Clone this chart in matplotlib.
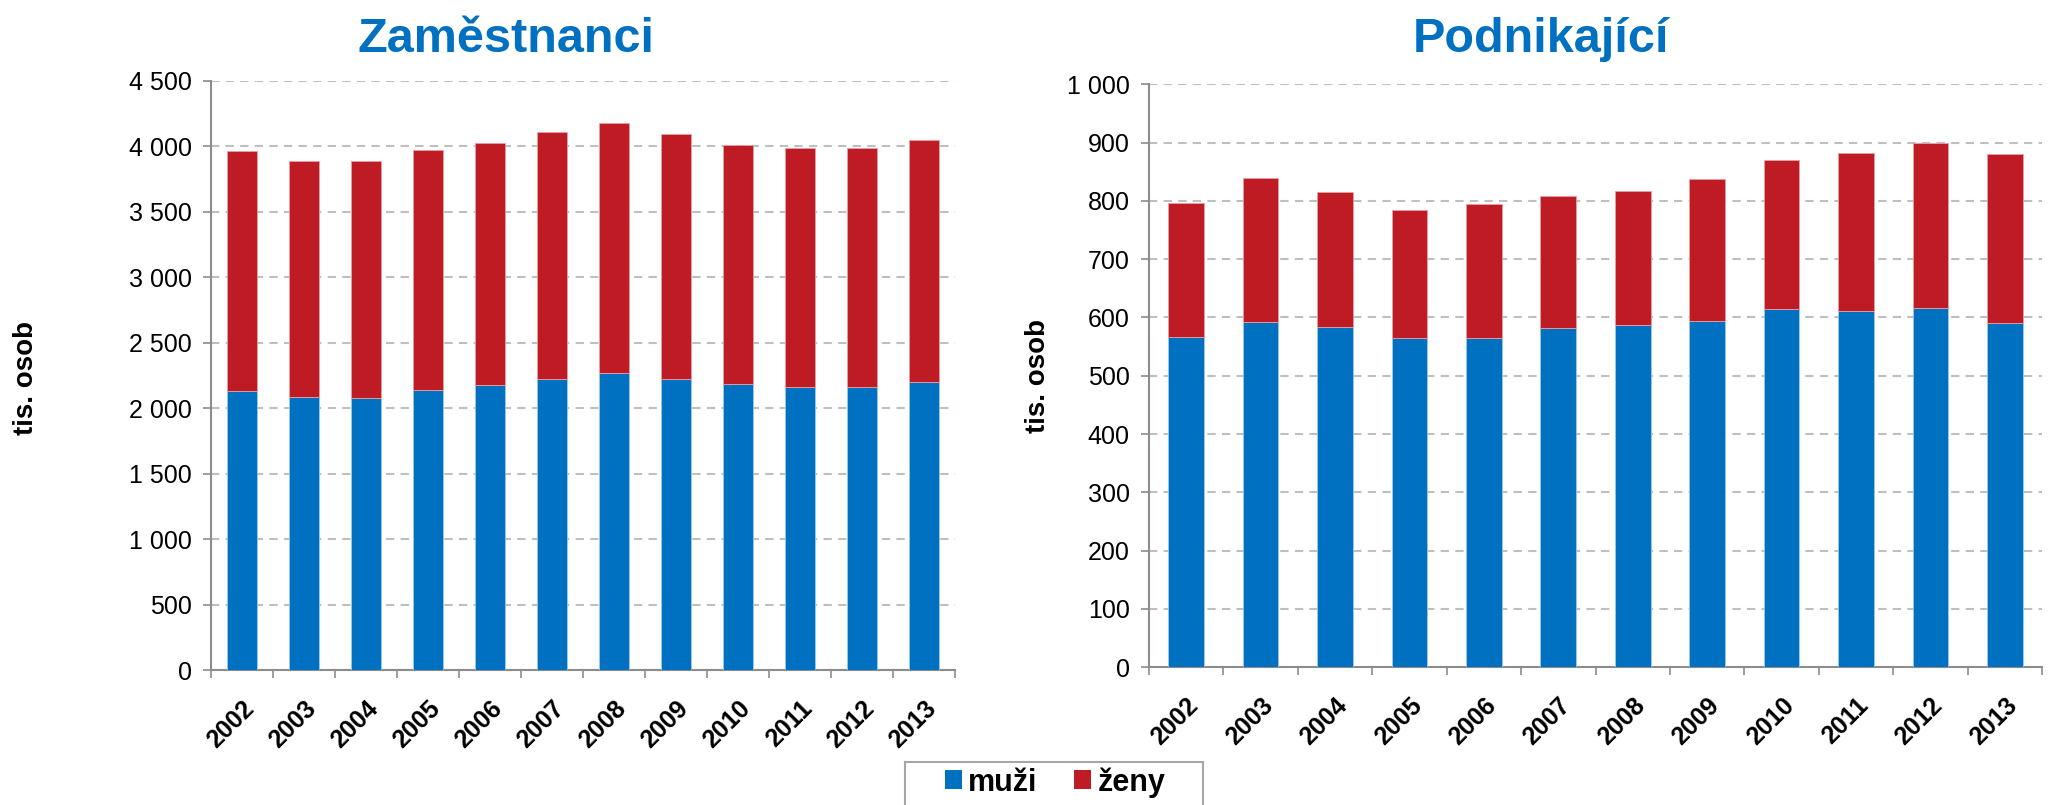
import matplotlib
matplotlib.use("Agg")
import matplotlib.pyplot as plt
from matplotlib.patches import Patch, Rectangle
from matplotlib.transforms import ScaledTranslation
import numpy as np

years = ["2002", "2003", "2004", "2005", "2006", "2007", "2008", "2009", "2010", "2011", "2012", "2013"]

# Zaměstnanci (tis. osob)
zam_muzi = [2128, 2088, 2078, 2139, 2174, 2220, 2271, 2225, 2182, 2162, 2159, 2200]
zam_celkem = [3962, 3891, 3886, 3975, 4028, 4107, 4181, 4092, 4010, 3985, 3985, 4048]

# Podnikající (tis. osob)
pod_muzi = [566, 593, 584, 564, 564, 582, 587, 594, 615, 611, 616, 591]
pod_celkem = [797, 839, 815, 784, 795, 809, 818, 838, 870, 882, 900, 881]

zam_zeny = [c - m for c, m in zip(zam_celkem, zam_muzi)]
pod_zeny = [c - m for c, m in zip(pod_celkem, pod_muzi)]

BLUE = "#0070C0"
RED = "#BE1B24"
GRID = "#BFBFBF"
AX = "#8C8C8C"

plt.rcParams["font.family"] = ["Liberation Sans", "DejaVu Sans"]

W, H = 2053, 805
fig = plt.figure(figsize=(W / 100, H / 100), dpi=100)


def fx(px):
    return px / W


def fy(py):
    return 1 - py / H


def make_axes(x0, x1, ytop, ybot):
    return fig.add_axes([fx(x0), fy(ybot), fx(x1) - fx(x0), fy(ytop) - fy(ybot)])


def fmt(v):
    return f"{v:,}".replace(",", " ")


def draw(ax, muzi, zeny, ymax, step):
    x = np.arange(len(years))
    ax.bar(x, muzi, width=0.48, color=BLUE, edgecolor="#9ec8ea", linewidth=0.6, zorder=3)
    ax.bar(x, zeny, width=0.48, bottom=muzi, color=RED, edgecolor="#e8a0a4", linewidth=0.6, zorder=3)
    ax.set_xlim(-0.5, len(years) - 0.5)
    ax.set_ylim(0, ymax)
    yt = np.arange(0, ymax + 1, step)
    ax.set_yticks(yt)
    ax.set_yticklabels([fmt(int(v)) for v in yt], fontsize=18)
    ax.yaxis.grid(True, linestyle=(0, (4, 3)), color=GRID, linewidth=1.5, zorder=0)
    ax.set_axisbelow(True)
    ax.set_xticks(x)
    ax.set_xticklabels(years, rotation=45, ha="right", va="top", rotation_mode="anchor",
                       fontsize=18, fontweight="bold")
    off = ScaledTranslation(5 / 100, 0, fig.dpi_scale_trans)
    for lab in ax.get_xticklabels():
        lab.set_transform(lab.get_transform() + off)
    ax.set_xticks(np.arange(-0.5, len(years), 1), minor=True)
    ax.tick_params(axis="x", which="major", length=0, pad=19)
    ax.tick_params(axis="x", which="minor", length=6, width=1.2, color=AX)
    ax.tick_params(axis="y", length=6, width=1.2, color=AX, pad=8)
    for s in ["top", "right"]:
        ax.spines[s].set_visible(False)
    for s in ["left", "bottom"]:
        ax.spines[s].set_color(AX)
        ax.spines[s].set_linewidth(1.5)


ax1 = make_axes(211, 955, 81, 670)
draw(ax1, zam_muzi, zam_zeny, 4500, 500)
ax2 = make_axes(1149, 2042, 84.5, 667)
draw(ax2, pod_muzi, pod_zeny, 1000, 100)

fig.text(fx(506), fy(52), "Zaměstnanci", fontsize=35, fontweight="bold", color=BLUE,
         ha="center", va="baseline")
fig.text(fx(1541), fy(52), "Podnikající", fontsize=35, fontweight="bold", color=BLUE,
         ha="center", va="baseline")

fig.text(fx(26), fy(378), "tis. osob", fontsize=20, fontweight="bold", rotation=90,
         ha="center", va="center")
fig.text(fx(1038), fy(376), "tis. osob", fontsize=20, fontweight="bold", rotation=90,
         ha="center", va="center")

# legend frame (partly below the figure edge, as in the original)
fig.add_artist(Rectangle((fx(905), fy(815)), fx(1203) - fx(905), fy(762) - fy(815),
                         transform=fig.transFigure, facecolor="white", edgecolor="#A6A6A6",
                         linewidth=1.5, zorder=1))

handles = [Patch(facecolor=BLUE, label="muži"), Patch(facecolor=RED, label="ženy")]
leg = fig.legend(handles=handles, loc="upper left", bbox_to_anchor=(fx(945), fy(767)),
                 ncol=2, frameon=False, prop={"size": 22, "weight": "bold"},
                 handlelength=0.56, handleheight=0.56, handletextpad=0.2, columnspacing=1.2,
                 borderpad=0, borderaxespad=0)
leg.set_zorder(2)

fig.savefig("out.png", dpi=100)
